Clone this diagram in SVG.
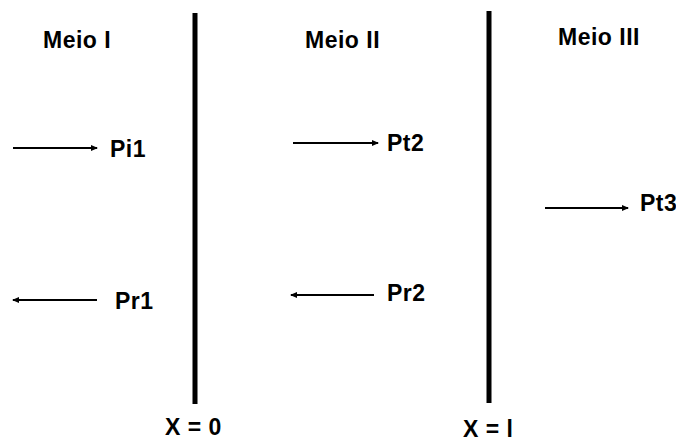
<svg xmlns="http://www.w3.org/2000/svg" width="676" height="441" viewBox="0 0 676 441">
<defs>
<marker id="ah" markerWidth="8" markerHeight="8" refX="6" refY="4" orient="auto-start-reverse" markerUnits="userSpaceOnUse">
<path d="M0,1 L7,4 L0,7 Z" fill="#000"/>
</marker>
<style>
text{font-family:"Liberation Sans",Arial,sans-serif;font-weight:bold;font-size:23px;letter-spacing:0.5px;fill:#000}
.wall{stroke:#000;stroke-width:5}
.arr{stroke:#000;stroke-width:2;fill:none}
</style>
</defs>
<rect width="676" height="441" fill="#fff"/>
<g id="interface1"><line class="wall" x1="195" y1="13" x2="195" y2="404"/><text x="165" y="435">X = 0</text></g>
<g id="interface2"><line class="wall" x1="489" y1="11" x2="489" y2="403"/><text x="463" y="437">X = l</text></g>
<g id="meio1"><text x="43" y="48">Meio I</text></g>
<g id="meio2"><text x="305" y="48">Meio II</text></g>
<g id="meio3"><text x="558" y="45">Meio III</text></g>
<g id="connectors">
<line class="arr" x1="13" y1="148" x2="97" y2="148" marker-end="url(#ah)"/>
<line class="arr" x1="293" y1="143" x2="378" y2="143" marker-end="url(#ah)"/>
<line class="arr" x1="545" y1="208" x2="628" y2="208" marker-end="url(#ah)"/>
<line class="arr" x1="13" y1="300" x2="97" y2="300" marker-start="url(#ah)"/>
<line class="arr" x1="291" y1="295" x2="374" y2="295" marker-start="url(#ah)"/>
</g>
<g id="Pi1"><text x="110" y="157">Pi1</text></g>
<g id="Pt2"><text x="387" y="151">Pt2</text></g>
<g id="Pt3"><text x="640" y="211">Pt3</text></g>
<g id="Pr1"><text x="115" y="309">Pr1</text></g>
<g id="Pr2"><text x="387" y="301">Pr2</text></g>
</svg>
